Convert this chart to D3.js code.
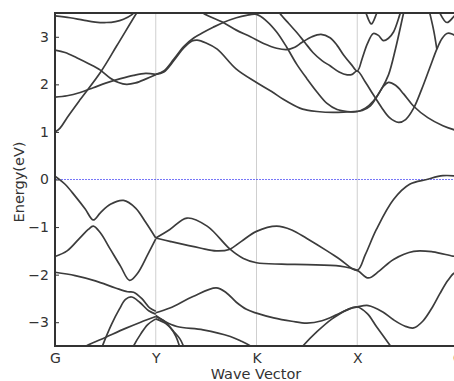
<!DOCTYPE html>
<html>
<head>
<meta charset="utf-8">
<script src="https://cdn.jsdelivr.net/npm/d3@7"></script>
<style>
  body { margin: 0; background: #fff; }
  svg text { font-family: "DejaVu Sans", sans-serif; fill: #333; }
</style>
</head>
<body>
<div id="chart"></div>
<script>
// k-path positions and labels
const kTicks = [0, 1, 2, 3, 4];
const kLabels = ["G", "Y", "K", "X", "G"];
const eTicks = [-3, -2, -1, 0, 1, 2, 3];

// bands as [k, E(eV)]
const vb1 = [[0,0.07],[0.1,-0.1],[0.2,-0.35],[0.3,-0.62],[0.38,-0.85],[0.45,-0.7],[0.55,-0.52],[0.68,-0.44],[0.8,-0.6],[0.9,-0.9],[1.0,-1.23]];
const vb2 = [[0,-1.62],[0.12,-1.5],[0.25,-1.22],[0.33,-1.05],[0.38,-0.98],[0.45,-1.12],[0.55,-1.47],[0.65,-1.82],[0.74,-2.12],[0.82,-1.97],[0.92,-1.58],[1.0,-1.25]];
const vb3 = [[0,-1.95],[0.2,-2.02],[0.4,-2.13],[0.6,-2.28],[0.72,-2.36],[0.78,-2.37],[0.86,-2.5],[0.94,-2.7],[1.0,-2.77]];
const vb4 = [[0.42,-3.8],[0.48,-3.45],[0.56,-3.05],[0.64,-2.72],[0.7,-2.52],[0.76,-2.47],[0.84,-2.58],[0.93,-2.76],[1.0,-2.83]];
const vb5 = [[0.15,-3.75],[0.31,-3.5],[0.5,-3.32],[0.7,-3.13],[0.85,-3.0],[1.0,-2.88]];
const vb6 = [[0.72,-3.8],[0.78,-3.5],[0.85,-3.25],[0.92,-3.05],[1.0,-2.93]];
const vb7 = [[1.0,-1.23],[1.14,-1.05],[1.31,-0.81],[1.51,-0.98],[1.74,-1.47],[1.87,-1.66],[2.0,-1.75],[2.25,-1.78],[2.5,-1.79],[2.83,-1.82],[3.0,-1.91],[3.11,-2.07],[3.22,-1.92],[3.36,-1.68],[3.56,-1.51],[3.75,-1.52],[3.95,-1.61],[4.0,-1.62]];
const vb8 = [[1.0,-1.23],[1.14,-1.3],[1.44,-1.44],[1.6,-1.5],[1.73,-1.47],[1.85,-1.3],[2.0,-1.09],[2.2,-0.98],[2.35,-1.06],[2.5,-1.24],[2.7,-1.5],[2.83,-1.68],[3.0,-1.91],[3.08,-1.58],[3.19,-1.05],[3.36,-0.42],[3.52,-0.1],[3.69,0.0],[3.85,0.08],[4.0,0.07]];
const vb9 = [[1.0,-2.8],[1.14,-2.7],[1.37,-2.46],[1.6,-2.28],[1.7,-2.38],[1.8,-2.58],[1.9,-2.73],[2.0,-2.81],[2.17,-2.91],[2.35,-2.98],[2.5,-3.02],[2.65,-2.97],[2.8,-2.84],[2.92,-2.72],[3.0,-2.68],[3.11,-2.65],[3.25,-2.78],[3.36,-2.95],[3.47,-3.08],[3.56,-3.12],[3.65,-2.98],[3.75,-2.67],[3.82,-2.4],[3.9,-2.12],[3.96,-1.97],[4.0,-1.95]];
const vb10 = [[2.38,-3.7],[2.46,-3.5],[2.6,-3.2],[2.75,-2.93],[2.9,-2.74],[3.0,-2.68],[3.1,-2.82],[3.19,-3.09],[3.33,-3.5],[3.4,-3.7]];
const vb11 = [[1.0,-2.86],[1.08,-2.97],[1.21,-3.09],[1.47,-3.16],[1.74,-3.3],[1.85,-3.4],[1.94,-3.5],[2.02,-3.65]];
const vb12 = [[1.0,-2.88],[1.08,-2.97],[1.15,-3.12],[1.2,-3.3],[1.235,-3.5],[1.26,-3.7]];
const vb13 = [[1.0,-2.93],[1.1,-3.03],[1.18,-3.2],[1.24,-3.35],[1.275,-3.5],[1.3,-3.65]];

const cb1 = [[0,1.0],[0.05,1.08],[0.12,1.3],[0.25,1.68],[0.45,2.25],[0.61,2.8],[0.81,3.5],[0.9,3.8]];
const cb2 = [[0,2.72],[0.1,2.67],[0.215,2.56],[0.33,2.44],[0.45,2.3],[0.55,2.13],[0.63,2.04],[0.71,2.0],[0.8,2.03],[0.91,2.12],[1.0,2.2]];
const cb3 = [[0,1.73],[0.12,1.76],[0.25,1.83],[0.38,1.93],[0.51,2.03],[0.65,2.12],[0.78,2.19],[0.9,2.23],[1.0,2.21]];
const cb4 = [[1.0,2.21],[1.08,2.26],[1.18,2.5],[1.28,2.77],[1.36,2.91],[1.41,2.93],[1.5,2.87],[1.61,2.74],[1.8,2.32],[2.0,2.04],[2.15,1.85],[2.27,1.68],[2.43,1.5],[2.5,1.46],[2.6,1.43],[2.76,1.41],[2.9,1.42],[3.0,1.43]];
const cb5 = [[1.0,2.21],[1.08,2.28],[1.18,2.53],[1.28,2.8],[1.38,2.98],[1.47,3.09],[1.57,3.2],[1.67,3.3],[1.8,3.4],[1.9,3.45],[2.0,3.47],[2.1,3.33],[2.2,3.1],[2.3,2.78],[2.4,2.42],[2.5,2.12],[2.6,1.84],[2.7,1.6],[2.8,1.47],[2.9,1.43],[3.0,1.43],[3.08,1.5],[3.16,1.65],[3.24,1.9],[3.31,2.2],[3.38,2.75],[3.46,3.5],[3.5,3.85]];
const cb6 = [[1.4,3.65],[1.47,3.5],[1.67,3.3],[1.8,3.14],[1.94,3.0],[2.07,2.86],[2.2,2.76],[2.3,2.73],[2.38,2.78],[2.45,2.88],[2.55,3.0],[2.64,3.05],[2.73,2.98],[2.8,2.82],[2.87,2.6],[2.94,2.42],[3.0,2.28],[3.05,2.55],[3.1,2.85],[3.16,3.07],[3.21,3.03],[3.26,2.92],[3.31,2.97],[3.36,3.1],[3.42,3.45],[3.46,3.75]];
const cb7 = [[2.18,3.7],[2.23,3.5],[2.32,3.28],[2.4,3.09],[2.48,2.88],[2.56,2.67],[2.65,2.5],[2.73,2.39],[2.82,2.26],[2.9,2.2],[2.95,2.21],[3.0,2.28],[3.08,2.05],[3.16,1.78],[3.24,1.52],[3.32,1.3],[3.41,1.2],[3.48,1.26],[3.56,1.5],[3.64,1.9],[3.72,2.35],[3.79,2.74],[3.84,2.96],[3.89,3.07],[3.94,3.06],[4.0,2.97]];
const cb8 = [[3.0,1.43],[3.05,1.45],[3.13,1.55],[3.2,1.76],[3.26,1.96],[3.31,2.04],[3.38,1.98],[3.46,1.8],[3.56,1.54],[3.7,1.3],[3.85,1.13],[4.0,1.02]];
const cb9 = [[0,3.44],[0.15,3.4],[0.28,3.35],[0.4,3.31],[0.51,3.3],[0.6,3.32],[0.68,3.37],[0.76,3.46],[0.82,3.6]];
const cb10 = [[3.05,3.75],[3.09,3.48],[3.14,3.27],[3.19,3.48],[3.23,3.75]];
const cb11 = [[3.68,3.85],[3.72,3.5],[3.76,3.12],[3.79,2.74]];
const cb12 = [[3.78,3.75],[3.82,3.5],[3.89,3.3],[3.96,3.43],[4.02,3.6]];

const bands = [vb1, vb2, vb3, vb4, vb5, vb6, vb7, vb8, vb9, vb10, vb11, vb12, vb13,
               cb1, cb2, cb3, cb4, cb5, cb6, cb7, cb8, cb9, cb10, cb11, cb12];

const W = 454, H = 381;
const plotLeft = 55, plotRight = 458, plotTop = 13, plotBottom = 346;

const x = d3.scaleLinear().domain([0, 4]).range([plotLeft, plotRight]);
const y = d3.scaleLinear().domain([-3.5, 3.5]).range([plotBottom, plotTop]);

const svg = d3.select("#chart").append("svg")
  .attr("width", W)
  .attr("height", H);

svg.append("clipPath").attr("id", "plot")
  .append("rect")
  .attr("x", plotLeft).attr("y", plotTop)
  .attr("width", plotRight - plotLeft).attr("height", plotBottom - plotTop);

// vertical lines at the high-symmetry points
svg.append("g").selectAll("line")
  .data(kTicks.slice(1, -1))
  .enter().append("line")
  .attr("x1", d => x(d)).attr("x2", d => x(d))
  .attr("y1", plotTop).attr("y2", plotBottom)
  .attr("stroke", "#cfcfcf")
  .attr("stroke-width", 1);

// Fermi level
svg.append("line")
  .attr("x1", plotLeft).attr("x2", plotRight)
  .attr("y1", y(0)).attr("y2", y(0))
  .attr("stroke", "#4a4af5")
  .attr("stroke-width", 1)
  .attr("stroke-opacity", 0.75)
  .attr("stroke-dasharray", "2,1");

const line = d3.line()
  .curve(d3.curveCatmullRom.alpha(0.5))
  .x(d => x(d[0]))
  .y(d => y(d[1]));

svg.append("g")
  .attr("clip-path", "url(#plot)")
  .selectAll("path")
  .data(bands)
  .enter().append("path")
  .attr("d", line)
  .attr("fill", "none")
  .attr("stroke", "#3c3c3c")
  .attr("stroke-width", 1.7);

// axes
const yAxis = d3.axisLeft(y).tickValues(eTicks).tickFormat(d3.format("d")).tickSize(-4).tickPadding(6);
const gy = svg.append("g")
  .attr("transform", "translate(" + plotLeft + ",0)")
  .call(yAxis);
gy.select(".domain").remove();
gy.selectAll(".tick line").attr("stroke", "#333");
gy.selectAll("text").style("font-size", "14px").attr("fill", "#333");

const xAxis = d3.axisBottom(x).tickValues(kTicks).tickFormat((d, i) => kLabels[i]).tickSize(0).tickPadding(7);
const gx = svg.append("g")
  .attr("transform", "translate(0," + plotBottom + ")")
  .call(xAxis);
gx.select(".domain").remove();
gx.selectAll("text").style("font-size", "14px").attr("fill", "#333");

// frame (right edge falls outside the window)
svg.append("path")
  .attr("d", "M" + plotRight + "," + plotTop + "H" + plotLeft + "V" + plotBottom + "H" + plotRight)
  .attr("fill", "none")
  .attr("stroke", "#333")
  .attr("stroke-width", 2);

svg.append("text")
  .attr("x", 256)
  .attr("y", 379)
  .attr("text-anchor", "middle")
  .style("font-size", "14.5px")
  .text("Wave Vector");

svg.append("text")
  .attr("transform", "translate(24," + 182 + ") rotate(-90)")
  .attr("text-anchor", "middle")
  .style("font-size", "14.5px")
  .text("Energy(eV)");
</script>
</body>
</html>
